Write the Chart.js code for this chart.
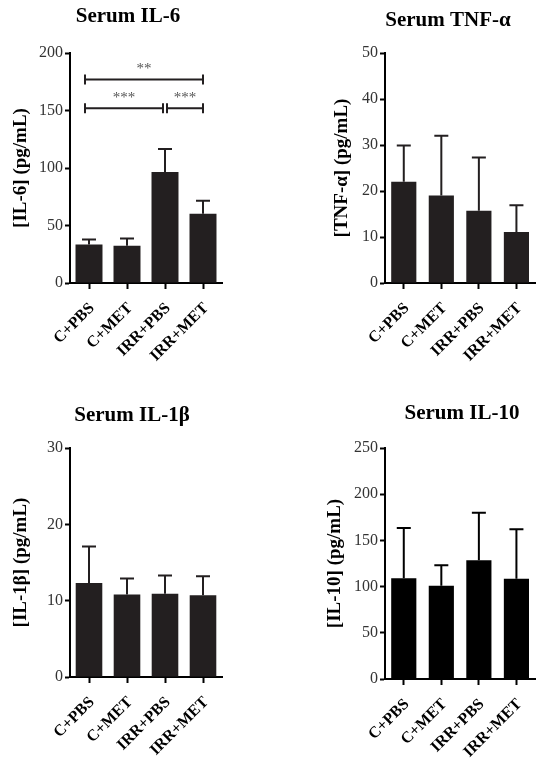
<!DOCTYPE html>
<html>
<head>
<meta charset="utf-8">
<script src="https://cdn.jsdelivr.net/npm/chart.js@4.4.0/dist/chart.umd.min.js"></script>
<style>
  html, body { margin: 0; padding: 0; background: #fff; overflow: hidden; width: 536px; height: 764px; }
  .panel { position: absolute; }
</style>
</head>
<body>
<div class="panel" style="left:0;top:0"><canvas id="il6" width="268" height="382"></canvas></div>
<div class="panel" style="left:268px;top:0"><canvas id="tnf" width="272" height="382"></canvas></div>
<div class="panel" style="left:0;top:382px"><canvas id="il1b" width="268" height="382"></canvas></div>
<div class="panel" style="left:268px;top:382px"><canvas id="il10" width="272" height="382"></canvas></div>
<script>
const groups = ['C+PBS', 'C+MET', 'IRR+PBS', 'IRR+MET'];

// mean and upper error (SD) per group
const il6Mean = [33.4, 32.3, 96.5, 60.2];
const il6Sd = [4.4, 6.4, 20.1, 11.3];
const il6Ticks = [0, 50, 100, 150, 200];
const il6Sig = [
  { from: 0, to: 3, y: 177, label: '**' },
  { from: 0, to: 2, y: 152, label: '***' },
  { from: 2, to: 3, y: 152, label: '***' }
];

const tnfMean = [22.0, 19.0, 15.7, 11.1];
const tnfSd = [7.9, 13.0, 11.6, 5.8];
const tnfTicks = [0, 10, 20, 30, 40, 50];

const il1bMean = [12.3, 10.8, 10.9, 10.7];
const il1bSd = [4.8, 2.1, 2.4, 2.5];
const il1bTicks = [0, 10, 20, 30];

const il10Mean = [109, 101, 128.4, 108.6];
const il10Sd = [54.4, 22, 51.6, 53.4];
const il10Ticks = [0, 50, 100, 150, 200, 250];

const FONT = '"Liberation Serif", "Times New Roman", serif';

// one-sided (upper) error bars
const errorBars = {
  id: 'errorBars',
  afterDatasetsDraw(chart, args, opts) {
    if (!opts.sd) return;
    const ctx = chart.ctx;
    const y = chart.scales.y;
    const means = chart.data.datasets[0].data;
    ctx.save();
    ctx.strokeStyle = opts.color;
    ctx.lineWidth = 2;
    chart.getDatasetMeta(0).data.forEach((bar, i) => {
      const top = y.getPixelForValue(means[i] + opts.sd[i]);
      ctx.beginPath();
      ctx.moveTo(bar.x, bar.y);
      ctx.lineTo(bar.x, top);
      ctx.moveTo(bar.x - opts.cap / 2, top);
      ctx.lineTo(bar.x + opts.cap / 2, top);
      ctx.stroke();
    });
    ctx.restore();
  }
};

// significance brackets with stars
const sigBrackets = {
  id: 'sigBrackets',
  afterDraw(chart, args, opts) {
    if (!opts.items) return;
    const { ctx, scales: { x, y } } = chart;
    ctx.save();
    ctx.strokeStyle = '#231f20';
    ctx.lineWidth = 2;
    ctx.fillStyle = '#555';
    ctx.font = '15px ' + FONT;
    ctx.textAlign = 'center';
    ctx.textBaseline = 'middle';
    opts.items.forEach(b => {
      const x1 = x.getPixelForValue(b.from) + (b.from > 0 ? 2 : -4);
      const x2 = x.getPixelForValue(b.to) - (b.to < groups.length - 1 ? 2 : 0);
      const py = y.getPixelForValue(b.y);
      ctx.beginPath();
      ctx.moveTo(x1, py); ctx.lineTo(x2, py);
      ctx.moveTo(x1, py - 5); ctx.lineTo(x1, py + 5);
      ctx.moveTo(x2, py - 5); ctx.lineTo(x2, py + 5);
      ctx.stroke();
      ctx.fillText(b.label, (x1 + x2) / 2, py - 10);
    });
    ctx.restore();
  }
};

const panelTitle = {
  id: 'panelTitle',
  afterDraw(chart, args, opts) {
    if (!opts.text) return;
    const ctx = chart.ctx;
    ctx.save();
    ctx.fillStyle = '#000';
    ctx.font = 'bold 21px ' + FONT;
    ctx.textAlign = 'center';
    ctx.textBaseline = 'middle';
    ctx.fillText(opts.text, opts.x, opts.y);
    ctx.restore();
  }
};

function makePanel(id, cfg) {
  return new Chart(document.getElementById(id), {
    type: 'bar',
    data: {
      labels: groups,
      datasets: [{
        data: cfg.mean,
        backgroundColor: cfg.color,
        barPercentage: cfg.barPct,
        categoryPercentage: 1
      }]
    },
    options: {
      responsive: false,
      animation: false,
      layout: { padding: { top: cfg.top, right: cfg.right, left: 0, bottom: 0 } },
      plugins: {
        legend: { display: false },
        tooltip: { enabled: false },
        errorBars: { sd: cfg.sd, color: cfg.color, cap: 14 },
        sigBrackets: { items: cfg.sig },
        panelTitle: { text: cfg.title, x: cfg.titleX, y: cfg.titleY }
      },
      scales: {
        x: {
          grid: { drawOnChartArea: false, offset: false, tickLength: 6, tickWidth: 2, tickColor: '#000' },
          border: { color: '#000', width: 2 },
          ticks: {
            autoSkip: false, minRotation: 45, maxRotation: 45, padding: 10, labelOffset: 3,
            color: '#000', font: { family: FONT, weight: 'bold', size: 16 }
          },
          afterFit: s => { s.height = cfg.xHeight; }
        },
        y: {
          min: 0,
          max: cfg.ticks[cfg.ticks.length - 1],
          afterBuildTicks: s => { s.ticks = cfg.ticks.map(v => ({ value: v })); },
          grid: { drawOnChartArea: false, tickLength: 5, tickWidth: 2, tickColor: '#000' },
          border: { color: '#000', width: 2 },
          ticks: { padding: 2, color: '#333', font: { family: FONT, size: 16 } },
          title: {
            display: true, text: cfg.yTitle, color: '#000',
            font: { family: FONT, weight: 'bold', size: 19 },
            padding: { top: cfg.titlePad, bottom: 0 }
          },
          afterFit: s => { s.width = cfg.yWidth; }
        }
      }
    },
    plugins: [errorBars, sigBrackets, panelTitle]
  });
}

makePanel('il6', {
  mean: il6Mean, sd: il6Sd, ticks: il6Ticks, sig: il6Sig, color: '#231f20', barPct: 0.71,
  title: 'Serum IL-6', titleX: 128, titleY: 17, yTitle: '[IL-6] (pg/mL)', titlePad: 10,
  top: 53, right: 46, yWidth: 70, xHeight: 99
});
makePanel('tnf', {
  mean: tnfMean, sd: tnfSd, ticks: tnfTicks, color: '#231f20', barPct: 0.67,
  title: 'Serum TNF-\u03b1', titleX: 180, titleY: 21, yTitle: '[TNF-\u03b1] (pg/mL)', titlePad: 63,
  top: 53, right: 0, yWidth: 117, xHeight: 99
});
makePanel('il1b', {
  mean: il1bMean, sd: il1bSd, ticks: il1bTicks, color: '#231f20', barPct: 0.70,
  title: 'Serum IL-1\u03b2', titleX: 132, titleY: 34, yTitle: '[IL-1\u03b2] (pg/mL)', titlePad: 10,
  top: 66, right: 46, yWidth: 70, xHeight: 87
});
makePanel('il10', {
  mean: il10Mean, sd: il10Sd, ticks: il10Ticks, color: '#000', barPct: 0.67,
  title: 'Serum IL-10', titleX: 194, titleY: 32, yTitle: '[IL-10] (pg/mL)', titlePad: 56,
  top: 66, right: 0, yWidth: 117, xHeight: 85
});
</script>
</body>
</html>
